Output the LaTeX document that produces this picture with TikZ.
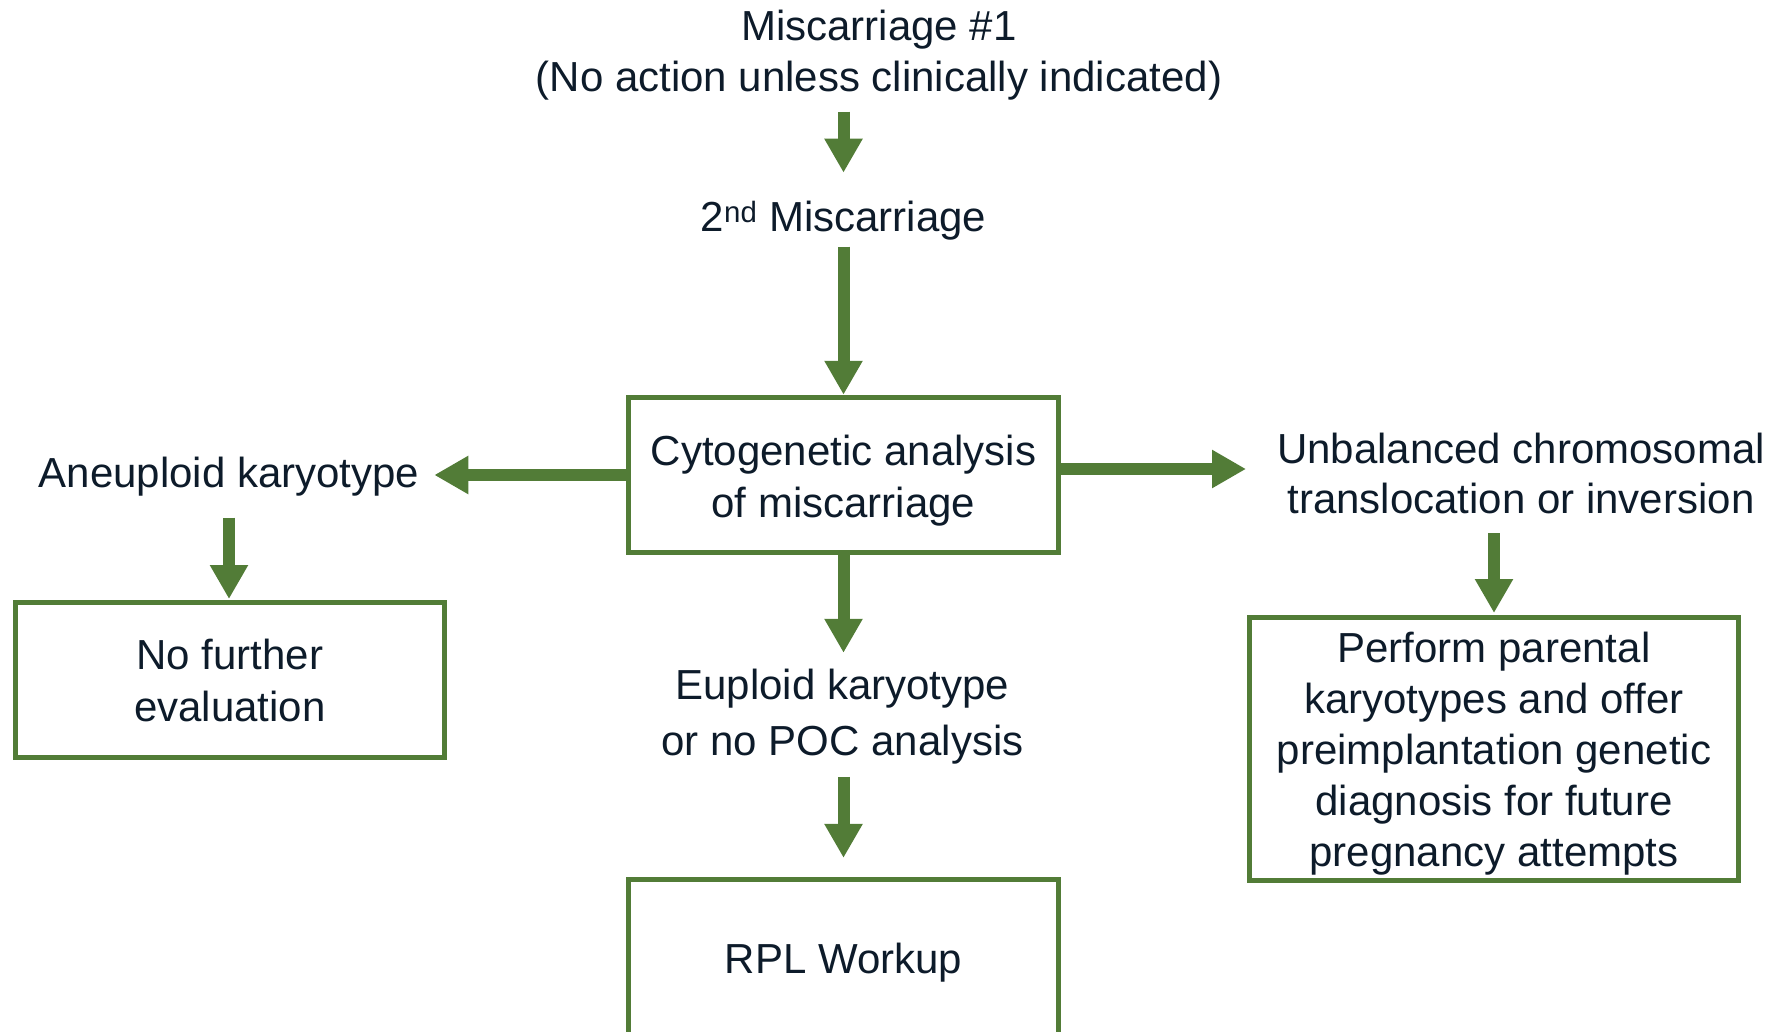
\documentclass[tikz,border=0pt]{standalone}
\usepackage{fontspec}
\setmainfont{Liberation Sans}
\usetikzlibrary{arrows.meta}
\definecolor{fgreen}{RGB}{82,124,55}
\definecolor{ftext}{RGB}{13,27,42}
\begin{document}
\begin{tikzpicture}[x=1pt,y=-1pt,
  txt/.style={inner sep=0pt, outer sep=0pt, align=center, text=ftext, font=\fontsize{42}{51}\selectfont},
  boxn/.style={txt, draw=fgreen, line width=5pt, outer sep=2.5pt},
  arr/.style={draw=fgreen, line width=12pt, -{Triangle[width=36pt,length=34pt]}}]
\useasboundingbox (0,0) rectangle (1775,1032);
\clip (0,0) rectangle (1775,1032);
% text nodes
\node[txt] (m1) at (879,55.5) {Miscarriage \#1\\(No action unless clinically indicated)};
\node[txt, anchor=base] (m2) at (843.5,231.7) {2\textsuperscript{nd} Miscarriage};
\node[txt, anchor=base] (aneu) at (229,487) {Aneuploid karyotype};
\node[txt, font=\fontsize{42}{50}\selectfont] (unbal) at (1521,473) {Unbalanced chromosomal\\translocation or inversion};
\node[txt, font=\fontsize{42}{56}\selectfont] (eup) at (842.5,716.4) {Euploid karyotype\\or no POC analysis};
% boxes
\node[boxn, font=\fontsize{42}{52}\selectfont, minimum width=430pt, minimum height=155.5pt] (cyto) at (843.5,475) {\rule{0pt}{42.5pt}Cytogenetic analysis\\of miscarriage};
\node[boxn, font=\fontsize{42}{52}\selectfont, minimum width=429.5pt, minimum height=155pt] (nof) at (229.8,680) {No further\\evaluation};
\node[boxn, minimum width=489pt, minimum height=263pt] (perform) at (1494,749) {\rule{0pt}{39.5pt}Perform parental\\karyotypes and offer\\preimplantation genetic\\diagnosis for future\\pregnancy attempts};
\node[boxn, minimum width=430pt, minimum height=166pt] (rpl) at (843.5,962.4) {RPL Workup};
% connectors
\draw[arr, shorten <=11pt, shorten >=59pt] (m1.south -| m2.base) -- (m2.base);
\draw[arr, shorten <=15pt] (m2.base) -- (m2.base |- cyto.north);
\draw[arr, shorten >=15pt] (cyto.west) -- (cyto.west -| aneu.east);
\draw[arr, shorten >=31pt] ([yshift=6pt]cyto.east) -- ([yshift=6pt]cyto.east -| unbal.west);
\draw[arr, shorten >=16pt] (cyto.south) -- (cyto.south |- eup.north);
\draw[arr, shorten <=13pt, shorten >=19pt] (rpl.north |- eup.south) -- (rpl.north);
\draw[arr, shorten <=22pt, shorten >=1pt] (aneu.south) -- (aneu.south |- nof.north);
\draw[arr, shorten <=20pt, shorten >=2pt] (unbal.south -| perform.north) -- (perform.north);
\end{tikzpicture}
\end{document}
